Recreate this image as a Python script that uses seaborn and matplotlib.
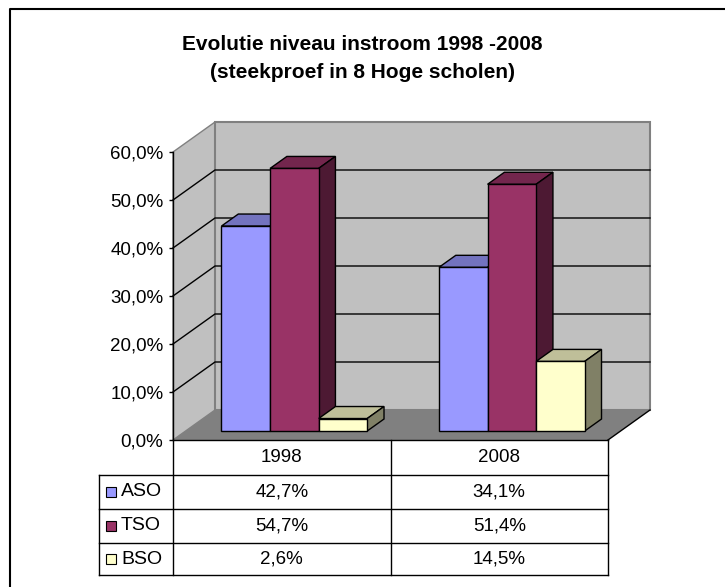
# Evolutie niveau instroom - 3D style clustered bars with data table
import numpy as np
import pandas as pd
import matplotlib
matplotlib.use("Agg")
import matplotlib.pyplot as plt
import seaborn as sns
from matplotlib.patches import Polygon, Rectangle
from matplotlib.lines import Line2D
from matplotlib.ticker import FuncFormatter
from matplotlib.transforms import IdentityTransform

# Data
years = ["1998", "2008"]
levels = ["ASO", "TSO", "BSO"]
aso = [42.7, 34.1]
tso = [54.7, 51.4]
bso = [2.6, 14.5]
y_ticks = [0, 10, 20, 30, 40, 50, 60]

front_colors = ["#9999FF", "#993366", "#FFFFCC"]
top_colors = ["#7373BF", "#73264D", "#BFBF99"]
side_colors = ["#4D4D80", "#4D1933", "#808066"]

df = pd.DataFrame({
    "year": years * 3,
    "level": [l for l in levels for _ in years],
    "value": aso + tso + bso,
})

plt.rcParams["font.family"] = ["Liberation Sans", "DejaVu Sans"]

W, H = 725, 587
fig = plt.figure(figsize=(W / 100, H / 100), dpi=100)
ident = IdentityTransform()

# front plane axes (axis + table), bar plane axes (bars)
axF = fig.add_axes([173 / W, (H - 440) / H, 435 / W, 288 / H])
ax = fig.add_axes([185.6 / W, (H - 431) / H, 435 / W, 288 / H])
for a in (axF, ax):
    a.set_xlim(-0.5, 1.5)
    a.set_ylim(0, 60)
    a.patch.set_visible(False)
axF.set_zorder(0)
ax.set_zorder(1)

# depth vector (display px)
D = np.array([42.0, 30.0])

def fp(x, y):
    return axF.transData.transform((x, y))

wall_c, floor_c, edge_c = "#C0C0C0", "#808080", "#808080"
# left wall
lw_pts = [fp(-0.5, 0), fp(-0.5, 60), fp(-0.5, 60) + D, fp(-0.5, 0) + D]
axF.add_patch(Polygon(lw_pts, closed=True, facecolor=wall_c, edgecolor=edge_c,
                      lw=1, transform=ident, clip_on=False, zorder=1))
# back wall
bw_pts = [fp(-0.5, 0) + D, fp(-0.5, 60) + D, fp(1.5, 60) + D, fp(1.5, 0) + D]
axF.add_patch(Polygon(bw_pts, closed=True, facecolor=wall_c, edgecolor=edge_c,
                      lw=1.5, transform=ident, clip_on=False, zorder=1))
# floor
fl_pts = [fp(-0.5, 0), fp(1.5, 0), fp(1.5, 0) + D, fp(-0.5, 0) + D]
axF.add_patch(Polygon(fl_pts, closed=True, facecolor=floor_c, edgecolor="none",
                      transform=ident, clip_on=False, zorder=1.5))
p1, p2 = fp(1.5, 0), fp(1.5, 0) + D
axF.add_line(Line2D([p1[0], p2[0]], [p1[1], p2[1]], color="black", lw=1,
                    transform=ident, clip_on=False, zorder=2))

# gridlines across left and back walls
for t in y_ticks[1:-1]:
    a0, a1, a2 = fp(-0.5, t), fp(-0.5, t) + D, fp(1.5, t) + D
    axF.add_line(Line2D([a0[0], a1[0], a2[0]], [a0[1], a1[1], a2[1]],
                        color="black", lw=1, transform=ident, clip_on=False, zorder=1.2))

# y axis on front plane
for s in ["top", "right", "bottom"]:
    axF.spines[s].set_visible(False)
axF.spines["left"].set_linewidth(1)
axF.spines["left"].set_zorder(3)
axF.set_yticks(y_ticks)
axF.yaxis.set_major_formatter(FuncFormatter(lambda v, p: f"{v:.1f}%".replace(".", ",")))
axF.tick_params(axis="y", length=3, width=1, pad=4, labelsize=13.5)
axF.set_xticks([])

# bars
sns.barplot(data=df, x="year", y="value", hue="level", hue_order=levels,
            palette=front_colors, width=0.67, errorbar=None, edgecolor="black",
            linewidth=1, legend=False, saturation=1, ax=ax)
ax.set_xlim(-0.5, 1.5)
ax.set_ylim(0, 60)
ax.axis("off")

d = D * 0.4
bars = []
for k, cont in enumerate(ax.containers):
    for p in cont:
        bars.append((p.get_x(), k, p))
bars.sort(key=lambda b: b[0])
for i, (x0, k, p) in enumerate(bars):
    w, h = p.get_width(), p.get_height()
    xl, yb = ax.transData.transform((x0, 0))
    xr, yt = ax.transData.transform((x0 + w, h))
    z = 3 + i * 0.1
    top = [(xl, yt), (xr, yt), (xr + d[0], yt + d[1]), (xl + d[0], yt + d[1])]
    side = [(xr, yb), (xr, yt), (xr + d[0], yt + d[1]), (xr + d[0], yb + d[1])]
    ax.add_patch(Polygon(top, closed=True, facecolor=top_colors[k], edgecolor="black",
                         lw=1, transform=ident, clip_on=False, zorder=z))
    ax.add_patch(Polygon(side, closed=True, facecolor=side_colors[k], edgecolor="black",
                         lw=1, transform=ident, clip_on=False, zorder=z))
    p.set_zorder(z + 0.05)
    p.set_clip_on(False)

# data table
xc = [fp(i, 0)[0] for i in range(len(years))]
xe = [fp(-0.5, 0)[0], fp(0.5, 0)[0], fp(1.5, 0)[0]]
leg_left = 99
row_y = [440, 475, 509, 543, 575]

def hline(x0, x1, yi):
    fig.add_artist(Line2D([x0, x1], [H - yi, H - yi], color="black", lw=1, transform=ident))

def vline(xi, y0, y1):
    fig.add_artist(Line2D([xi, xi], [H - y0, H - y1], color="black", lw=1, transform=ident))

hline(xe[0], xe[2], row_y[0])
for yi in row_y[1:]:
    hline(leg_left, xe[2], yi)
vline(leg_left, row_y[1], row_y[-1])
for xi in xe:
    vline(xi, row_y[0], row_y[-1])

def fmt(v):
    return f"{v:.1f}%".replace(".", ",")

for j, yr in enumerate(years):
    fig.text(xc[j], H - (row_y[0] + row_y[1]) / 2, yr, transform=ident,
             ha="center", va="center", fontsize=13.5)
series = [aso, tso, bso]
for k, lev in enumerate(levels):
    yc = H - (row_y[k + 1] + row_y[k + 2]) / 2
    for j in range(len(years)):
        fig.text(xc[j], yc, fmt(series[k][j]), transform=ident,
                 ha="center", va="center", fontsize=13.5)
    fig.add_artist(Rectangle((106, yc - 5), 10, 10, facecolor=front_colors[k],
                             edgecolor="black", lw=0.8, transform=ident))
    fig.text(121, yc, lev, transform=ident, ha="left", va="center", fontsize=14)

# title
fig.text(W / 2, H - 44, "Evolutie niveau instroom 1998 -2008", transform=ident,
         ha="center", va="center", fontsize=15, fontweight="bold")
fig.text(W / 2, H - 73, "(steekproef in 8 Hoge scholen)", transform=ident,
         ha="center", va="center", fontsize=15, fontweight="bold")

# chart border
fig.add_artist(Line2D([10, 10, W], [0, H - 9, H - 9], color="black", lw=1.5, transform=ident))

fig.savefig("out.png", dpi=100)
